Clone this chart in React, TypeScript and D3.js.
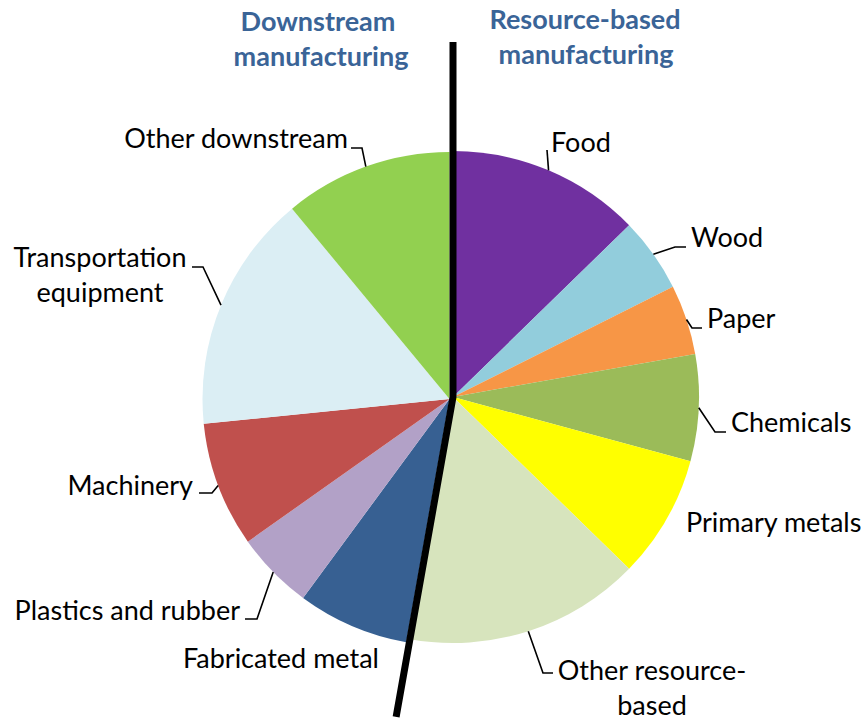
import React from 'react';
import * as d3 from 'd3';

const categories = [
  'Food', 'Wood', 'Paper', 'Chemicals', 'Primary metals', 'Other resource-based',
  'Fabricated metal', 'Plastics and rubber', 'Machinery', 'Transportation equipment', 'Other downstream',
];
const shares = [12.7, 4.9, 4.6, 7.0, 8.1, 15.5, 7.3, 5.1, 8.2, 15.6, 11.0];
const groups = ['resource', 'resource', 'resource', 'resource', 'resource', 'resource',
  'downstream', 'downstream', 'downstream', 'downstream', 'downstream'];
const sliceColors = ['#7030A0', '#92CDDC', '#F79646', '#9BBB59', '#FFFF00', '#D7E4BD',
  '#376092', '#B2A1C7', '#C0504D', '#DBEEF4', '#92D050'];
const downstreamTitle = ['Downstream', 'manufacturing'];
const resourceTitle = ['Resource-based', 'manufacturing'];

// layout (positions only)
const W = 862, H = 721;
const radii: Record<string, number> = { resource: 246, downstream: 247 };
const centers: Record<string, [number, number]> = {
  resource: [453, 397],
  downstream: [449.5, 399],
};
type LabelLayout = { lines: string[]; anchor: 'start' | 'end' | 'middle'; x: number; y: number; path?: [number, number][] };
const labelLayout: LabelLayout[] = [
  { lines: ['Food'], anchor: 'start', x: 551, y: 152, path: [[547, 150]] },
  { lines: ['Wood'], anchor: 'start', x: 691, y: 247, path: [[675, 247], [686, 247]] },
  { lines: ['Paper'], anchor: 'start', x: 707, y: 328, path: [[692, 328], [702, 328]] },
  { lines: ['Chemicals'], anchor: 'start', x: 731, y: 432, path: [[715, 432], [726, 432]] },
  { lines: ['Primary metals'], anchor: 'start', x: 686, y: 532 },
  { lines: ['Other resource-', 'based'], anchor: 'middle', x: 652, y: 680, path: [[543, 673], [553, 673]] },
  { lines: ['Fabricated metal'], anchor: 'end', x: 379, y: 668 },
  { lines: ['Plastics and rubber'], anchor: 'end', x: 240, y: 620, path: [[257, 619], [245, 619]] },
  { lines: ['Machinery'], anchor: 'end', x: 193, y: 495, path: [[212, 493], [199, 493]] },
  { lines: ['Transportation', 'equipment'], anchor: 'middle', x: 100, y: 267, path: [[203, 267], [192, 267]] },
  { lines: ['Other downstream'], anchor: 'end', x: 348, y: 148, path: [[362, 148], [351, 148]] },
];

const FONT = 'Lato, "Open Sans", sans-serif';

export default function App() {
  const pie = d3.pie<number>().sort(null).value((d) => d);
  const arcs = pie(shares);

  const rc = centers.resource;
  const resEnd = arcs[groups.lastIndexOf('resource')].endAngle;
  const top: [number, number] = [rc[0], rc[1] - 355];
  const bottom: [number, number] = [rc[0] + 325 * Math.sin(resEnd), rc[1] - 325 * Math.cos(resEnd)];

  return (
    <svg width={W} height={H} style={{ position: 'absolute', left: 0, top: 0, background: '#fff' }}>
      {arcs.map((a, i) => {
        const c = centers[groups[i]];
        const arcGen = d3.arc<d3.PieArcDatum<number>>().innerRadius(0).outerRadius(radii[groups[i]]);
        return (
          <path key={categories[i]} d={arcGen(a) || ''} fill={sliceColors[i]}
            transform={`translate(${c[0]},${c[1]})`} />
        );
      })}
      {arcs.map((a, i) => {
        const lay = labelLayout[i];
        if (!lay.path) return null;
        const c = centers[groups[i]];
        const r = radii[groups[i]];
        const mid = (a.startAngle + a.endAngle) / 2;
        const start: [number, number] = [c[0] + r * Math.sin(mid), c[1] - r * Math.cos(mid)];
        const pts = [start, ...lay.path];
        return <path key={'l' + i} d={d3.line()(pts) || ''} fill="none" stroke="#000" strokeWidth={1.6} />;
      })}
      <path d={d3.line()([top, rc, bottom]) || ''} fill="none" stroke="#000" strokeWidth={7} strokeLinejoin="miter" />
      {labelLayout.map((lay, i) => (
        <text key={'t' + i} x={lay.x} y={lay.y} textAnchor={lay.anchor}
          fontFamily={FONT} fontSize={27} fill="#000">
          {lay.lines.map((ln, j) => (
            <tspan key={j} x={lay.x} dy={j === 0 ? 0 : 35}>{ln}</tspan>
          ))}
        </text>
      ))}
      <text x={318} y={31} textAnchor="middle" fontFamily={FONT} fontWeight="bold" fontSize={27} fill="#3A6497">
        <tspan x={318} dy={0}>{downstreamTitle[0]}</tspan>
        <tspan x={321} dy={35}>{downstreamTitle[1]}</tspan>
      </text>
      <text x={585} y={29} textAnchor="middle" fontFamily={FONT} fontWeight="bold" fontSize={27} fill="#3A6497">
        <tspan x={585} dy={0}>{resourceTitle[0]}</tspan>
        <tspan x={586} dy={35}>{resourceTitle[1]}</tspan>
      </text>
    </svg>
  );
}
